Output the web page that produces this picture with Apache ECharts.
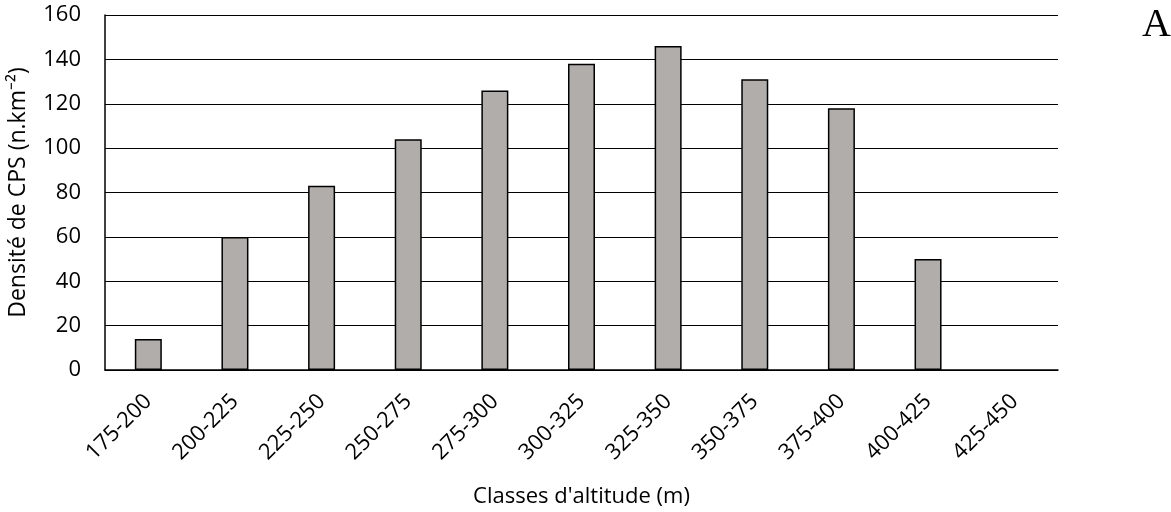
<!DOCTYPE html>
<html>
<head>
<meta charset="utf-8">
<script src="https://cdn.jsdelivr.net/npm/echarts@6/dist/echarts.min.js"></script>
<style>
  html, body { margin: 0; padding: 0; background: #fff; }
  #main { width: 1171px; height: 512px; }
</style>
</head>
<body>
<div id="main"></div>
<script>
// classes d'altitude et densités (425-450 : pas de barre)
const classes = ['175-200', '200-225', '225-250', '250-275', '275-300', '300-325',
  '325-350', '350-375', '375-400', '400-425', '425-450'];
const densite = [14, 60, 83, 104, 126, 138, 146, 131, 118, 50, null];
const yTicks = [0, 20, 40, 60, 80, 100, 120, 140, 160];

const chart = echarts.init(document.getElementById('main'));
const font = 'Open Sans';

const option = {
  animation: false,
  title: {
    text: 'A',
    left: 1137,
    top: 0,
    textStyle: { fontFamily: 'Liberation Serif', fontSize: 40, fontWeight: 'normal', color: '#000' }
  },
  grid: { left: 105, right: 113, top: 15, bottom: 142, outerBoundsMode: 'none', containLabel: false },
  xAxis: {
    type: 'category',
    data: classes,
    name: "Classes d'altitude (m)",
    nameLocation: 'middle',
    nameGap: 116,
    nameTextStyle: { fontFamily: font, fontSize: 22, color: '#000' },
    axisLine: { lineStyle: { color: '#000', width: 1.5 } },
    axisTick: { show: false },
    axisLabel: { rotate: 45, margin: 28, fontFamily: font, fontSize: 22, color: '#000', interval: 0 }
  },
  yAxis: {
    type: 'value',
    min: yTicks[0],
    max: yTicks[yTicks.length - 1],
    interval: 20,
    name: 'Densité de CPS (n.km⁻²)',
    nameLocation: 'middle',
    nameGap: 75,
    nameTextStyle: { fontFamily: font, fontSize: 23, color: '#000' },
    axisLine: { show: true, lineStyle: { color: '#000', width: 1.5 } },
    axisTick: { show: false },
    axisLabel: { margin: 24, fontFamily: font, fontSize: 22, color: '#000' },
    splitLine: { lineStyle: { color: '#000', width: 1.2 } }
  },
  series: [{
    type: 'bar',
    data: densite,
    barWidth: 27,
    itemStyle: { color: '#b0adab', borderColor: '#000', borderWidth: 1.5 }
  }]
};

chart.setOption(option);
</script>
</body>
</html>
